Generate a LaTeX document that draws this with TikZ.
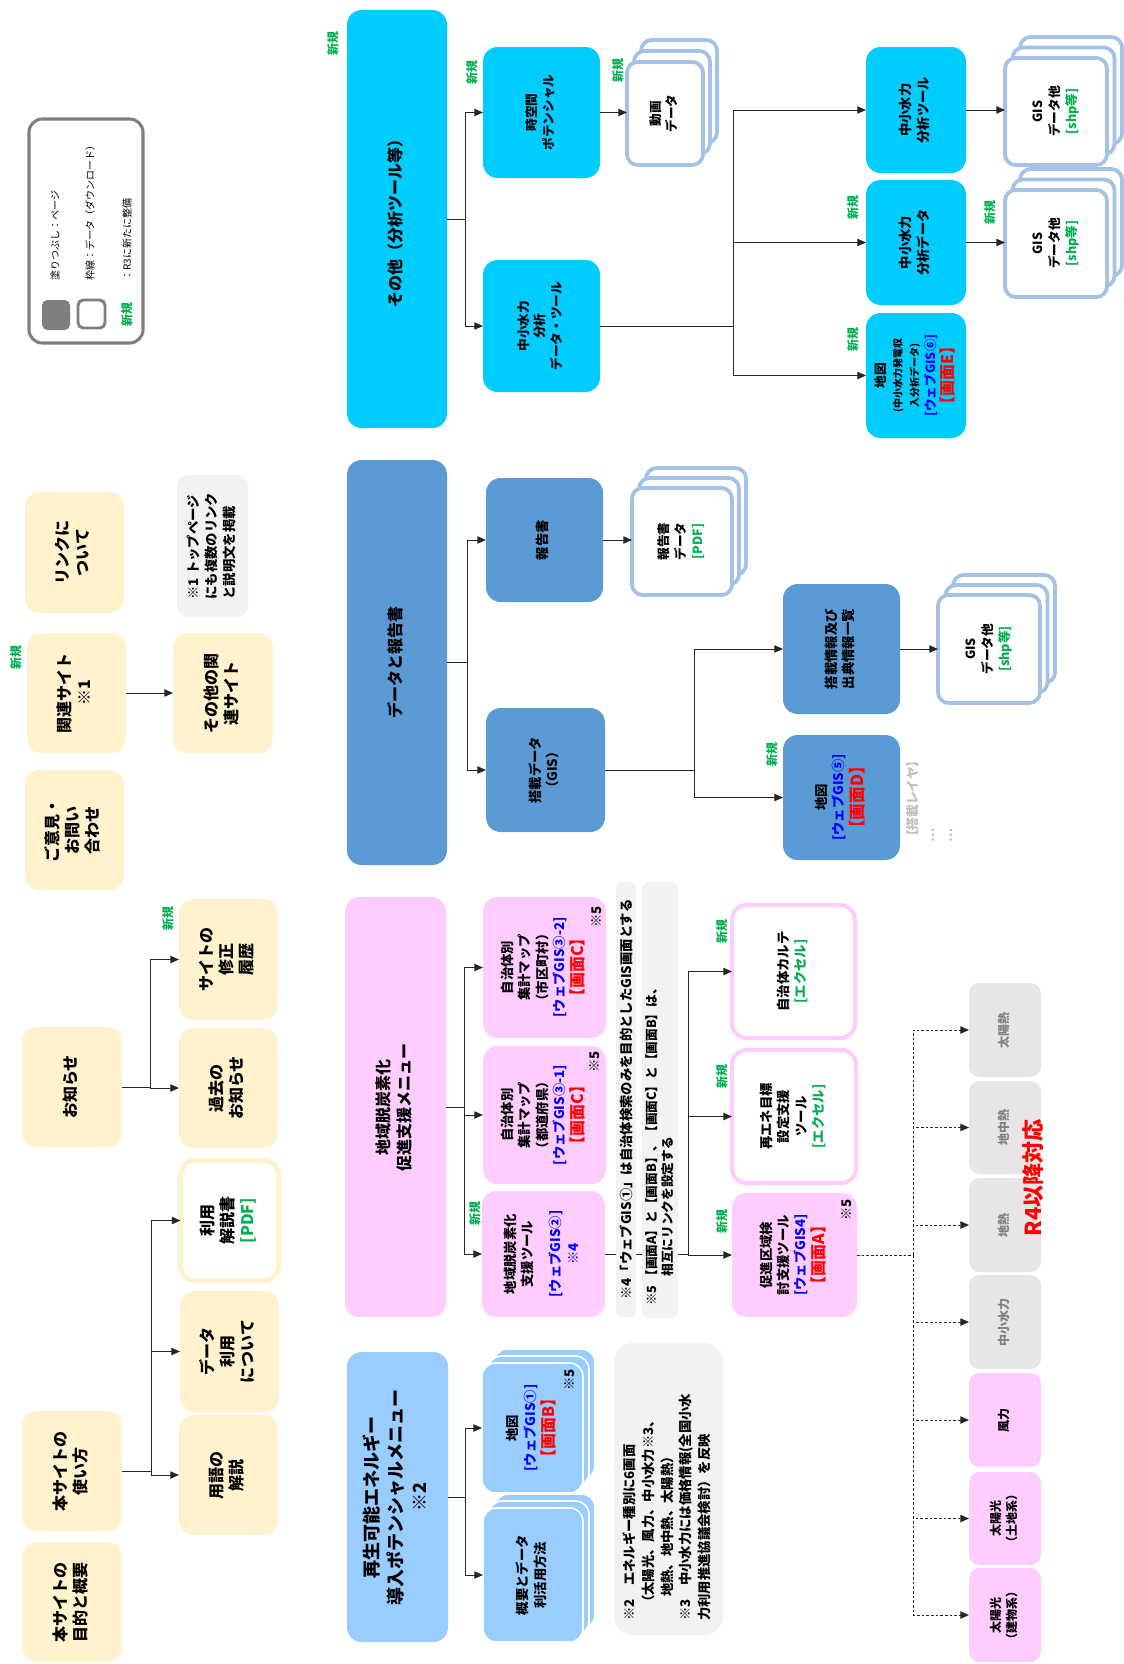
\documentclass[tikz,border=0pt]{standalone}
\usepackage{fontspec}
\setmainfont{Noto Sans CJK JP}
\usetikzlibrary{arrows.meta,calc}
\definecolor{yel}{HTML}{FFF2CC}
\definecolor{cya}{HTML}{00CCFF}
\definecolor{dblue}{HTML}{5B9BD5}
\definecolor{pnk}{HTML}{FFCCFF}
\definecolor{lblue}{HTML}{99CCFF}
\definecolor{notegray}{HTML}{F2F2F2}
\definecolor{engray}{HTML}{E6E6E6}
\definecolor{entext}{HTML}{808080}
\definecolor{stkc}{HTML}{A4C2E6}
\definecolor{newg}{HTML}{00B050}
\definecolor{blu}{HTML}{0000FF}
\definecolor{rd}{HTML}{FF0000}
\definecolor{lgray}{HTML}{BFBFBF}
\definecolor{leg}{HTML}{7F7F7F}
\newcommand\fs[2]{\fontsize{#1}{#2}\selectfont}
\newcommand\RT[1]{\rotatebox{90}{\begin{tabular}{@{}c@{}}#1\end{tabular}}}
\newcommand\RL[1]{\rotatebox{90}{\begin{tabular}{@{}l@{}}#1\end{tabular}}}
\newcommand\NEW[3]{\node[nw] (#1) at (#2,#3) {\rotatebox{90}{新規}};}
% name, style, x1, y1, x2, y2, dx, dy, text
\newcommand\stk[9]{%
  \draw[#2] ($(#3,#4)+2*(#7,#8)$) rectangle ($(#5,#6)+2*(#7,#8)$);
  \draw[#2] ($(#3,#4)+(#7,#8)$) rectangle ($(#5,#6)+(#7,#8)$);
  \node[#2, rc={#3}{#4}{#5}{#6}] (#1) {#9};}
\newcommand\tree[4]{\foreach \kid in {#4}{\draw[#1] (#2.east) -- (#2.east -| #3) |- (\kid.west);}}
\begin{document}
\begin{tikzpicture}[x=0.75pt,y=-0.75pt,
  rc/.style n args={4}{at={({(#1+#3)/2},{(#2+#4)/2})}, minimum width={(#3-#1)*0.75pt}, minimum height={(#4-#2)*0.75pt}},
  box/.style={inner sep=0pt, outer sep=0pt, rounded corners=11pt, font=\bfseries},
  yb/.style={box, fill=yel, font=\fs{12}{15}\bfseries},
  ybw/.style={box, fill=white, draw=yel, line width=3.5pt, font=\fs{12}{15}\bfseries},
  cat/.style={box, font=\fs{12}{16}\bfseries},
  ch/.style={box, font=\fs{9.5}{12.5}\bfseries},
  stkb/.style={fill=white, draw=stkc, line width=2.8pt, rounded corners=8pt, inner sep=0pt, outer sep=0pt, font=\fs{9.5}{12.5}\bfseries},
  stkl/.style={fill=lblue, draw=white, line width=1.2pt, rounded corners=10pt, inner sep=0pt, outer sep=0pt, font=\fs{10}{13}\bfseries},
  note/.style={fill=notegray, rounded corners=8pt, inner sep=0pt},
  en/.style={box, rounded corners=8pt, font=\fs{9}{12}\bfseries},
  nw/.style={text=newg, font=\fs{9}{11}\bfseries, inner sep=0pt},
  mk/.style={inner sep=0pt, font=\fs{10}{12}\bfseries},
  arr/.style={draw=black!85, line width=0.75pt, -{Triangle[length=6.5pt,width=5.5pt]}},
  dsh/.style={arr, dash pattern=on 2pt off 1.5pt}]
\fill[white] (0,0) rectangle (1124,1664);
\useasboundingbox (0,0) rectangle (1124,1664);

% legend
\node[draw=leg, line width=2.3pt, rounded corners=10pt, inner sep=0pt, rc={29}{119}{143}{343}] (legend) {};
\node[fill=leg, rounded corners=4pt, inner sep=0pt, rc={42}{300}{70}{330}] (legfill) {};
\node[draw=leg, line width=2.2pt, fill=white, rounded corners=4pt, inner sep=0pt, rc={78}{300}{105}{328}] (legframe) {};
\node[anchor=south, inner sep=0pt, font=\fs{7.5}{9}] (legt1) at (55,281) {\rotatebox{90}{塗りつぶし：ページ}};
\node[anchor=south, inner sep=0pt, font=\fs{7.5}{9}] (legt2) at (90,281) {\rotatebox{90}{枠線：データ（ダウンロード）}};
\node[anchor=south, inner sep=0pt, font=\fs{7.5}{9}] (legt3) at (127,281) {\rotatebox{90}{：R3に新たに整備}};
\NEW{legnew}{127}{314}

% left column
\node[yb, rc={25}{492}{124}{613}] (link) {\RT{リンクに\\ついて}};
\node[note, font=\fs{10}{13.5}\bfseries, rc={177}{475}{248}{617}] (note1) {\RL{※1 トップページ\\にも複数のリンク\\と説明文を掲載}};
\node[yb, rc={27}{633}{126}{753}] (kanren) {\RT{関連サイト\\※1}};
\NEW{new1}{16}{657}
\node[yb, rc={173}{633}{273}{753}] (sonotasite) {\RT{その他の関\\連サイト}};
\node[yb, rc={25}{770}{124}{890}] (goiken) {\RT{ご意見・\\お問い\\合わせ}};
\node[yb, rc={179}{899}{278}{1020}] (shusei) {\RT{サイトの\\修正\\履歴}};
\NEW{new2}{168}{918}
\node[yb, rc={22}{1027}{122}{1147}] (oshirase) {\RT{お知らせ}};
\node[yb, rc={179}{1028}{278}{1148}] (kako) {\RT{過去の\\お知らせ}};
\node[ybw, rc={180.5}{1160.5}{278.5}{1280.5}] (kaisetsu) {\RT{利用\\解説書\\\color{newg}[PDF]}};
\node[yb, rc={180}{1291}{279}{1412}] (datariyo) {\RT{データ\\利用\\について}};
\node[yb, rc={22}{1411}{122}{1531}] (tsukai) {\RT{本サイトの\\使い方}};
\node[yb, rc={179}{1415}{278}{1535}] (yogo) {\RT{用語の\\解説}};
\node[yb, rc={22}{1542}{122}{1662}] (mokuteki) {\RT{本サイトの\\目的と概要}};

% categories
\node[cat, fill=cya, rc={347}{10}{447}{428}] (cat1) {\RT{その他（分析ツール等）}};
\NEW{new3}{333}{43}
\node[cat, fill=dblue, rc={347}{460}{447}{865}] (cat2) {\RT{データと報告書}};
\node[cat, fill=pnk, rc={345}{897}{446}{1317}] (cat3) {\RT{地域脱炭素化\\促進支援メニュー}};
\node[cat, fill=lblue, font=\fs{13.5}{18}\bfseries, rc={347}{1352}{448}{1642}] (cat4) {\RT{再生可能エネルギー\\導入ポテンシャルメニュー\\※2}};

% branch: その他
\node[ch, fill=cya, rc={483}{47}{600}{178}] (jikukan) {\RT{時空間\\ポテンシャル}};
\NEW{new4}{472}{72}
\node[ch, fill=cya, rc={483}{260}{600}{392}] (chusho) {\RT{中小水力\\分析\\データ・ツール}};
\stk{douga}{stkb}{627}{62}{703}{165}{7}{-11}{\RT{動画\\データ}}
\NEW{new5}{618}{70}
\node[ch, fill=cya, font=\fs{10}{13}\bfseries, rc={866}{47}{966}{173}] (ctool) {\RT{中小水力\\分析ツール}};
\node[ch, fill=cya, font=\fs{10}{13}\bfseries, rc={866}{180}{966}{305}] (cdata) {\RT{中小水力\\分析データ}};
\NEW{new6}{853}{207}
\node[ch, fill=cya, rc={866}{313}{966}{438}] (cmap) {\RT{地図\\\fs{7.5}{9.5}(中小水力発電収\\\fs{7.5}{9.5}入分析データ)\\\color{blu}[ウェブGIS⑥]\\\color{rd}\fs{12}{14}【画面E】}};
\NEW{new7}{853}{339}
\stk{gis1}{stkb}{1005}{58}{1107}{165}{7.5}{-10.5}{\RT{GIS\\データ他\\\color{newg}[shp等]}}
\stk{gis2}{stkb}{1005}{190}{1107}{297}{7.5}{-10.5}{\RT{GIS\\データ他\\\color{newg}[shp等]}}
\NEW{new8}{990}{212}

% branch: データと報告書
\node[ch, fill=dblue, font=\fs{10}{13}\bfseries, rc={486}{478}{603}{602}] (hokoku) {\RT{報告書}};
\node[ch, fill=dblue, font=\fs{10}{13}\bfseries, rc={486}{708}{605}{832}] (tosai) {\RT{搭載データ\\（GIS）}};
\stk{hdata}{stkb}{632}{488}{732}{595}{7}{-10}{\RT{報告書\\データ\\\color{newg}[PDF]}}
\node[ch, fill=dblue, font=\fs{10}{13}\bfseries, rc={783}{584}{900}{714}] (tjoho) {\RT{搭載情報及び\\出典情報一覧}};
\node[ch, fill=dblue, font=\fs{10}{13}\bfseries, rc={783}{735}{900}{860}] (mapD) {\RT{地図\\\color{blu}[ウェブGIS⑤]\\\color{rd}\fs{12.5}{15}【画面D】}};
\NEW{new9}{772}{754}
\stk{gis3}{stkb}{938}{595}{1040}{703}{7.5}{-10}{\RT{GIS\\データ他\\\color{newg}[shp等]}}
\node[anchor=south west, inner sep=0pt, text=lgray, font=\fs{9.5}{13}\bfseries] (layer) at (905,843) {\RL{【搭載レイヤ】\\…\\…}};

% branch: 地域脱炭素化
\node[ch, fill=pnk, font=\fs{10}{13}\bfseries, rc={483}{897}{606}{1038}] (jichi2) {\RT{自治体別\\集計マップ\\（市区町村）\\\color{blu}[ウェブGIS③-2]\\\color{rd}\fs{12}{15}【画面C】}};
\node[mk] (j2n5) at (597,917) {\rotatebox{90}{※5}};
\node[ch, fill=pnk, font=\fs{10}{13}\bfseries, rc={483}{1046}{606}{1184}] (jichi1) {\RT{自治体別\\集計マップ\\（都道府県）\\\color{blu}[ウェブGIS③-1]\\\color{rd}\fs{12}{15}【画面C】}};
\node[mk] (j1n5) at (595,1062) {\rotatebox{90}{※5}};
\node[ch, fill=pnk, font=\fs{10}{13}\bfseries, rc={482}{1191}{605}{1317}] (datstool) {\RT{地域脱炭素化\\支援ツール\\[8pt]\color{blu}[ウェブGIS②]\\\color{blu}※4}};
\NEW{new10}{475}{1213}
\node[ch, fill=white, draw=pnk, line width=3pt, font=\fs{10}{13}\bfseries, rc={732}{905}{855}{1038}] (karte) {\RT{自治体カルテ\\\color{newg}[エクセル]}};
\NEW{new11}{722}{931}
\node[ch, fill=white, draw=pnk, line width=3pt, font=\fs{10}{13}\bfseries, rc={732}{1050}{856}{1183}] (saiene) {\RT{再エネ目標\\設定支援\\ツール\\\color{newg}[エクセル]}};
\NEW{new12}{722}{1076}
\node[ch, fill=pnk, font=\fs{10}{13}\bfseries, rc={732}{1193}{857}{1317}] (sokushin) {\RT{促進区域検\\討支援ツール\\\color{blu}[ウェブGIS4]\\\color{rd}\fs{12}{15}【画面A】}};
\node[mk] (skn5) at (847,1210) {\rotatebox{90}{※5}};
\NEW{new13}{722}{1221}

% branch: 再生可能
\stk{mapB}{stkl}{482}{1363}{583}{1493}{6}{-7}{\RT{地図\\\color{blu}[ウェブGIS①]\\\color{rd}\fs{12}{15}【画面B】}}
\node[mk] (mbn5) at (570,1380) {\rotatebox{90}{※5}};
\stk{gaiyo}{stkl}{483}{1508}{583}{1642}{6}{-7}{\RT{概要とデータ\\利活用方法}}
\node[note, rounded corners=14pt, rc={614}{1343}{723}{1635}] (n23) {};
\node[anchor=south, inner sep=0pt, font=\fs{10}{14}\bfseries] (n23t) at (668.5,1621) {\RL{※2　エネルギー種別に6画面\\\hspace{0.9em}（太陽光、風力、中小水力※3、\\\hspace{1.8em}地熱、地中熱、太陽熱）\\※3　中小水力には価格情報(全国小水\\力利用推進協議会検討）を反映}};

% energy boxes
\node[en, fill=engray, text=entext, rc={969}{983}{1041}{1077}] (e1) {\RT{太陽熱}};
\node[en, fill=engray, text=entext, rc={969}{1081}{1041}{1174}] (e2) {\RT{地中熱}};
\node[en, fill=engray, text=entext, rc={969}{1178}{1041}{1272}] (e3) {\RT{地熱}};
\node[en, fill=engray, text=entext, rc={969}{1275}{1041}{1369}] (e4) {\RT{中小水力}};
\node[en, fill=pnk, rc={969}{1373}{1041}{1467}] (e5) {\RT{風力}};
\node[en, fill=pnk, rc={969}{1472}{1041}{1565}] (e6) {\RT{太陽光\\（土地系）}};
\node[en, fill=pnk, rc={969}{1568}{1041}{1662}] (e7) {\RT{太陽光\\（建物系）}};
\node[inner sep=0pt, text=rd, font=\fs{16.5}{20}\bfseries] (r4) at (1033,1178) {\rotatebox{90}{R4以降対応}};

% connectors
\coordinate (b1) at (465,0);
\coordinate (b2) at (733,0);
\coordinate (b3) at (467,0);
\coordinate (b4) at (694,0);
\coordinate (b5) at (464,0);
\coordinate (b6) at (688,0);
\coordinate (b7) at (913,0);
\coordinate (b8) at (465,0);
\coordinate (b9) at (150,0);
\coordinate (b10) at (151,0);
\tree{arr}{cat1}{b1}{jikukan,chusho}
\tree{arr}{chusho}{b2}{ctool,cdata,cmap}
\tree{arr}{cat2}{b3}{hokoku,tosai}
\tree{arr}{tosai}{b4}{tjoho,mapD}
\tree{arr}{cat3}{b5}{jichi2,jichi1,datstool}
\tree{arr}{datstool}{b6}{karte,saiene,sokushin}
\tree{dsh}{sokushin}{b7}{e1,e2,e3,e4,e5,e6,e7}
\tree{arr}{cat4}{b8}{mapB,gaiyo}
\tree{arr}{oshirase}{b9}{shusei,kako}
\tree{arr}{tsukai}{b10}{kaisetsu,datariyo,yogo}
\draw[arr] (kanren.east) -- (kanren.east -| sonotasite.west);
\draw[arr] (jikukan.east) -- (jikukan.east -| douga.west);
\draw[arr] (ctool.east) -- (ctool.east -| gis1.west);
\draw[arr] (cdata.east) -- (cdata.east -| gis2.west);
\draw[arr] (hokoku.east) -- (hokoku.east -| hdata.west);
\draw[arr] (tjoho.east) -- (tjoho.east -| gis3.west);

% notes over the connector
\node[note, rounded corners=4pt, font=\fs{10}{12}\bfseries, rc={616}{882}{636}{1317}] (n4) {\rotatebox{90}{※4「ウェブGIS①」は自治体検索のみを目的としたGIS画面とする}};
\node[note, rounded corners=6pt, rc={642}{882}{678}{1318}] (n5) {};
\node[anchor=south, inner sep=0pt, font=\fs{9.5}{12.5}\bfseries] (n5t) at (661,1306) {\RL{※5 【画面A】と【画面B】、【画面C】と【画面B】は、\\\hspace{2.3em}相互にリンクを設定する}};
\end{tikzpicture}
\end{document}
